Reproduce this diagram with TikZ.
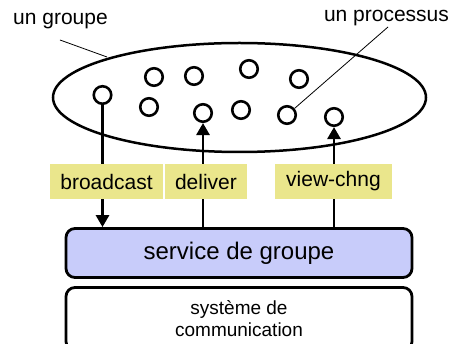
\documentclass[tikz,border=0pt]{standalone}
\usepackage{fontspec}
\setmainfont{Liberation Sans}
\usetikzlibrary{arrows.meta,shapes.geometric}
\definecolor{lbl}{RGB}{234,230,140}
\definecolor{svc}{RGB}{200,204,250}
\begin{document}
\begin{tikzpicture}[x=1pt,y=-1pt,
  proc/.style={draw,line width=2.6pt,circle,minimum size=17.5pt,inner sep=0pt},
  lab/.style={fill=lbl,inner sep=0pt,minimum height=35pt,font=\fontsize{21}{25}\selectfont},
  txt/.style={inner sep=0pt,font=\fontsize{21}{25}\selectfont},
  layer/.style={draw,line width=2.8pt,rounded corners=9pt,minimum width=346pt,inner sep=0pt,align=center},
  arr/.style={line width=2.8pt,-{Triangle[length=12pt,width=13pt]}},
  pointer/.style={line width=0.8pt}]
\useasboundingbox (0,0) rectangle (457,344);
\clip (0,0) rectangle (457,344);
% group
\node[ellipse,draw,line width=2.5pt,minimum width=373pt,minimum height=109pt,inner sep=0pt] (grp) at (239.5,97.5) {};
% processes
\node[proc] (p1) at (102.5,95) {};
\node[proc] (p2) at (154,77) {};
\node[proc] (p3) at (194,76) {};
\node[proc] (p4) at (249,69) {};
\node[proc] (p5) at (299,79) {};
\node[proc] (p6) at (149,107) {};
\node[proc] (p7) at (203,113) {};
\node[proc] (p8) at (241,110) {};
\node[proc] (p9) at (287,115) {};
\node[proc] (p10) at (334,117) {};
% layers
\node[layer,fill=svc,minimum height=49pt,font=\fontsize{24}{28}\selectfont] (svc) at (239,253) {service de groupe};
\node[layer,fill=white,minimum height=63pt,font=\fontsize{19}{22}\selectfont] (sys) at (239,319) {système de\\communication};
% arrows
\draw[arr] (p1) -- (p1 |- svc.north);
\draw[arr] (p7 |- svc.north) -- (p7);
\draw[arr] (p10 |- svc.north) -- (p10);
% labels
\node[lab,minimum width=113pt] (bc) at (106.5,181.5) {broadcast};
\node[lab,minimum width=82pt] (dl) at (206,181.5) {deliver};
\node[lab,minimum width=117pt] (vc) at (333.5,181.5) {view-chng};
% callouts
\node[txt] (tg) at (60.5,21) {un groupe};
\node[txt] (tp) at (386.5,18) {un processus};
\coordinate (g0) at (60,40);
\coordinate (g1) at (107,57);
\coordinate (pp) at (388,27);
\draw[pointer] (g0) -- (g1);
\draw[pointer] (pp) -- (p9);
\end{tikzpicture}
\end{document}
